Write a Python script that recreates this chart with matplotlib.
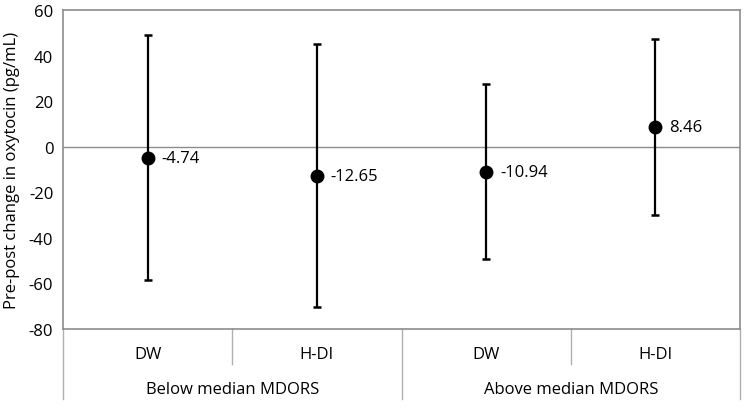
import numpy as np
import matplotlib.pyplot as plt
from matplotlib.transforms import blended_transform_factory

plt.rcParams['font.family'] = ['Open Sans', 'DejaVu Sans']
plt.rcParams['axes.unicode_minus'] = False

# data
groups = ["Below median MDORS", "Above median MDORS"]
conditions = ["DW", "H-DI", "DW", "H-DI"]
means = [-4.74, -12.65, -10.94, 8.46]
errors = [53.8, 57.7, 38.5, 38.6]
yticks = [-80, -60, -40, -20, 0, 20, 40, 60]

grey = "#8c8c8c"
fs = 12

fig = plt.figure(figsize=(7.44, 4.10), dpi=100)
ax = fig.add_axes([63 / 744, 80 / 410, 677 / 744, 319 / 410])

x = np.arange(len(means))
ax.errorbar(x, means, yerr=errors, fmt="o", color="black", ms=9,
            elinewidth=1.6, capsize=3, capthick=1.8, zorder=3)
for xi, m in zip(x, means):
    ax.annotate(f"{m:.2f}", (xi, m), xytext=(10, 0), textcoords="offset points",
                ha="left", va="center", fontsize=fs)

ax.axhline(0, color=grey, lw=1, zorder=1)
ax.set_xlim(-0.5, len(means) - 0.5)
ax.set_ylim(-80, 60)
ax.set_yticks(yticks)
ax.tick_params(axis="y", length=0, labelsize=fs, pad=7)
ax.set_xticks([])
for s in ax.spines.values():
    s.set_color(grey)
    s.set_linewidth(1.2)
ax.set_ylabel("Pre-post change in oxytocin (pg/mL)", fontsize=fs, labelpad=6)

# two-level category axis
tr = blended_transform_factory(ax.transData, ax.transAxes)
for xi, c in zip(x, conditions):
    ax.text(xi, -25 / 319, c, transform=tr, ha="center", va="center", fontsize=fs)
for gi, g in enumerate(groups):
    ax.text(gi * 2 + 0.5, -60 / 319, g, transform=tr, ha="center", va="center", fontsize=fs)

short_b = -35 / 319
long_b = -70 / 319
for xb, bot in [(-0.5, long_b), (0.5, short_b), (1.5, long_b), (2.5, short_b), (3.5, long_b)]:
    ax.plot([xb, xb], [0, bot], transform=tr, color="#b0b0b0", lw=1, clip_on=False)

fig.savefig("out.png", dpi=100)
